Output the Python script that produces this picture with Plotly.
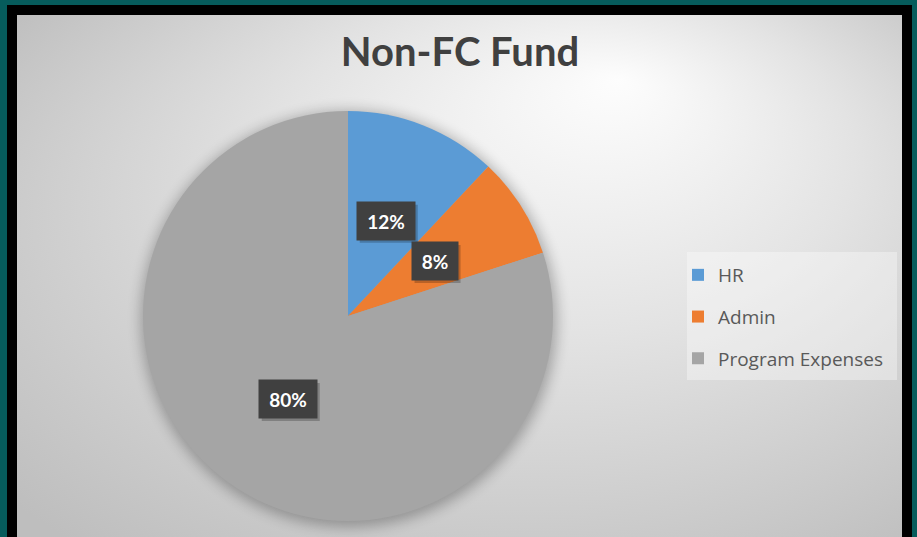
import base64
import math
import plotly.graph_objects as go

# chart data
labels = ['HR', 'Admin', 'Program Expenses']
values = [12, 8, 80]
colors = ['#5B9BD5', '#ED7D31', '#A5A5A5']
chart_title = 'Non-FC Fund'

W, H = 917, 537
# pie centre / radius in pixels
cx, cy, R = 348, 316, 205


def px(x):
    return x / W


def py(y):
    return 1 - y / H


# background: teal + black frames, radial grey gradient, soft pie shadow
svg = f'''<svg xmlns="http://www.w3.org/2000/svg" width="{W}" height="{H}">
<defs>
<radialGradient id="g" cx="0.55" cy="0.45" r="0.72" fx="0.68" fy="0.12">
<stop offset="0" stop-color="#fdfdfd"/>
<stop offset="0.45" stop-color="#e3e3e3"/>
<stop offset="1" stop-color="#bebebe"/>
</radialGradient>
<filter id="b" x="-30%" y="-30%" width="160%" height="160%"><feGaussianBlur stdDeviation="7"/></filter>
</defs>
<rect width="{W}" height="{H}" fill="#065c5c"/>
<rect x="7" y="5" width="905" height="{H}" fill="#000000"/>
<rect x="17" y="15" width="885" height="{H}" fill="url(#g)"/>
<circle cx="{cx + 1}" cy="{cy + 3}" r="{R + 3}" fill="#000000" opacity="0.28" filter="url(#b)"/>
</svg>'''
bg_src = 'data:image/svg+xml;base64,' + base64.b64encode(svg.encode()).decode()

fig = go.Figure()

fig.add_trace(go.Pie(labels=labels, values=values,
                     marker=dict(colors=colors, line=dict(width=0)),
                     sort=False, direction='clockwise', rotation=0,
                     textinfo='none', showlegend=False,
                     domain=dict(x=[px(cx - R), px(cx + R)],
                                 y=[py(cy + R), py(cy - R)])))

# legend entries (separate traces so the spacing can be set)
for lab, col in zip(labels, colors):
    fig.add_trace(go.Scatter(x=[None], y=[None], mode='markers', name=lab,
                             legendgroup=lab,
                             marker=dict(symbol='square', size=12, color=col)))

# percentage labels in dark boxes, with a soft drop shadow behind each box
total = sum(values)
cum = 0
annotations = []
shapes = [dict(type='rect', xref='paper', yref='paper',
               x0=px(687), x1=px(897), y0=py(380), y1=py(252),
               fillcolor='rgba(255,255,255,0.35)', line=dict(width=0),
               layer='below')]
for v in values:
    ang = math.radians((cum + v / 2) / total * 360)
    cum += v
    lx = cx + 0.5 * R * math.sin(ang)
    ly = cy - 0.5 * R * math.cos(ang)
    txt = f'{round(v / total * 100)}%'
    w = 12 * len(txt) + 10
    bw, bh = w + 12, 38
    shapes.append(dict(type='rect', xref='paper', yref='paper',
                       x0=px(lx - bw / 2 + 3), x1=px(lx + bw / 2 + 3),
                       y0=py(ly + bh / 2 + 3), y1=py(ly - bh / 2 + 3),
                       fillcolor='rgba(0,0,0,0.22)', line=dict(width=0),
                       layer='above'))
    annotations.append(dict(x=px(lx), y=py(ly), xref='paper', yref='paper',
                            xanchor='center', yanchor='middle',
                            text=txt, showarrow=False, width=w, height=26,
                            borderpad=6, bgcolor='#404040',
                            font=dict(family='Lato', size=19, weight='bold',
                                      color='white')))

fig.update_layout(
    width=W, height=H,
    margin=dict(l=0, r=0, t=0, b=0),
    paper_bgcolor='#065c5c',
    plot_bgcolor='rgba(0,0,0,0)',
    xaxis=dict(visible=False),
    yaxis=dict(visible=False),
    title=dict(text=chart_title, x=px(460), xanchor='center',
               y=py(52), yanchor='middle',
               font=dict(family='Lato', size=40, weight='bold', color='#404040')),
    legend=dict(x=px(678), y=py(256), xanchor='left', yanchor='top',
                bgcolor='rgba(0,0,0,0)', traceorder='grouped',
                tracegroupgap=14, itemclick=False, itemdoubleclick=False,
                font=dict(family='Open Sans', size=19, color='#595959')),
    images=[dict(source=bg_src, xref='paper', yref='paper', x=0, y=1,
                 sizex=1, sizey=1, xanchor='left', yanchor='top',
                 sizing='stretch', layer='below')],
    shapes=shapes,
    annotations=annotations,
)

fig.write_html('out.html', config={'displayModeBar': False},
               post_script="document.body.style.margin='0';")
